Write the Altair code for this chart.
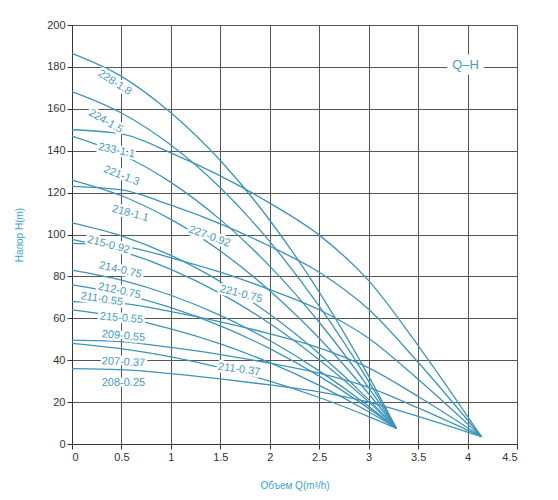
import altair as alt
import pandas as pd

# ---- data ----
q_a = [0, 0.5, 1, 1.5, 2, 2.5, 3, 3.28]          # group ending near Q=3.3
curves_a = {
    "228-1.8":  [186.5, 175.5, 158.1, 135.3, 106.8, 72.5, 32.4, 7.5],
    "224-1.5":  [168.2, 158.0, 142.7, 122.3, 96.6, 65.8, 29.9, 7.5],
    "221-1.3":  [147.0, 138.2, 124.9, 107.1, 84.9, 58.1, 26.9, 7.5],
    "218-1.1":  [126.0, 118.5, 107.2, 92.1, 73.2, 50.5, 24.0, 7.5],
    "215-0.92": [105.5, 99.3, 90.0, 77.5, 61.9, 43.1, 21.2, 7.5],
    "214-0.75": [97.7, 92.0, 83.4, 71.9, 57.5, 40.2, 20.1, 7.5],
    "212-0.75": [83.0, 78.2, 71.0, 61.4, 49.4, 34.9, 18.0, 7.5],
    "211-0.55": [76.0, 71.7, 65.1, 56.4, 45.5, 32.4, 17.0, 7.5],
    "209-0.55": [64.0, 60.4, 55.0, 47.8, 38.8, 28.0, 15.4, 7.5],
    "207-0.37": [48.0, 45.4, 41.6, 36.4, 30.0, 22.2, 13.1, 7.5],
}
q_b = [0, 0.5, 1, 1.5, 2, 2.5, 3, 3.5, 4.14]     # group ending near Q=4.15
curves_b = {
    "233-1.1":  [150.0, 148.0, 139.0, 128.0, 115.0, 99.7, 78.0, 47.0, 3.5],
    "227-0.92": [123.0, 121.3, 114.0, 105.1, 94.4, 82.0, 64.3, 39.0, 3.5],
    "221-0.75": [95.8, 94.5, 88.9, 82.0, 73.7, 64.1, 50.5, 30.9, 3.5],
    "215-0.55": [68.0, 67.1, 63.2, 58.3, 52.6, 45.9, 36.3, 22.7, 3.5],
    "211-0.37": [49.6, 48.9, 46.1, 42.7, 38.6, 33.8, 27.0, 17.2, 3.5],
    "208-0.25": [36.0, 35.5, 33.6, 31.1, 28.2, 24.9, 20.0, 13.2, 3.5],
}

label_text = ["228-1.8", "224-1.5", "233-1.1", "221-1.3", "218-1.1", "227-0.92",
              "215-0.92", "214-0.75", "221-0.75", "212-0.75", "211-0.55",
              "215-0.55", "209-0.55", "207-0.37", "211-0.37", "208-0.25"]
label_q = [0.43, 0.34, 0.45, 0.50, 0.59, 1.39, 0.37, 0.49, 1.71, 0.48, 0.30,
           0.50, 0.52, 0.52, 1.69, 0.52]
label_h = [172.5, 154.0, 140.0, 128.0, 110.0, 99.0, 95.0, 83.0, 71.5, 73.0, 69.0,
           60.0, 51.5, 39.0, 35.5, 29.0]
label_angle = [33, 30, 12, 22, 15, 20, 15, 13, 14, 12, 9, 5, 5, 3, 8, 0]

x_ticks = [i * 0.25 for i in range(19)]
y_ticks = [i * 10 for i in range(21)]

# ---- tables ----
rows = []
for name, hs in curves_a.items():
    for q, h in zip(q_a, hs):
        rows.append({"Q": q, "H": h, "curve": name})
for name, hs in curves_b.items():
    for q, h in zip(q_b, hs):
        rows.append({"Q": q, "H": h, "curve": name})
df = pd.DataFrame(rows)

labels = pd.DataFrame({"text": label_text, "Q": label_q, "H": label_h,
                       "angle": label_angle})
qh = pd.DataFrame({"text": ["Q\u2013H"], "Q": [3.98], "H": [181]})

line_color = "#3f93b8"
text_color = "#4a9cc0"

x_axis = alt.Axis(
    values=x_ticks, format="~g",
    labelExpr="datum.value % 0.5 == 0 ? datum.label : ''",
    gridColor={"condition": {"test": "datum.value % 0.5 != 0", "value": "#cfcfcf"},
               "value": "#555555"},
    tickOpacity={"condition": {"test": "datum.value % 0.5 != 0", "value": 0},
                 "value": 1},
    tickColor="#333", tickSize=5, domainColor="#333",
    labelColor="#333", labelFontSize=11, labelFont="Liberation Sans",
    title="\u041e\u0431\u044a\u0435\u043c Q(m\u00b3/h)", titleColor="#3b9fd2",
    titleFontSize=10, titleFontWeight="normal", titleFont="Liberation Sans",
    titlePadding=18,
)
y_axis = alt.Axis(
    values=y_ticks,
    labelExpr="datum.value % 20 == 0 ? datum.label : ''",
    gridColor={"condition": {"test": "datum.value % 20 != 0", "value": "#cfcfcf"},
               "value": "#555555"},
    tickOpacity={"condition": {"test": "datum.value % 20 != 0", "value": 0},
                 "value": 1},
    tickColor="#333", tickSize=5, domainColor="#333",
    labelColor="#333", labelFontSize=11, labelFont="Liberation Sans",
    title="\u041d\u0430\u043f\u043e\u0440 H(m)", titleColor="#3b9fd2",
    titleFontSize=10, titleFontWeight="normal", titleFont="Liberation Sans",
    titlePadding=22,
)

xs = alt.Scale(domain=[0, 4.5], nice=False, zero=False)
ys = alt.Scale(domain=[0, 200], nice=False)

lines = alt.Chart(df).mark_line(
    interpolate="monotone", color=line_color, strokeWidth=1.3
).encode(
    x=alt.X("Q:Q", scale=xs, axis=x_axis),
    y=alt.Y("H:Q", scale=ys, axis=y_axis),
    detail="curve:N",
)

halo = alt.Chart(labels).mark_text(
    font="Liberation Sans", fontSize=11, color="white",
    stroke="white", strokeWidth=5, strokeJoin="round"
).encode(
    x="Q:Q", y="H:Q", text="text:N", angle=alt.Angle("angle:Q", scale=None)
)
txt = alt.Chart(labels).mark_text(
    font="Liberation Sans", fontSize=11, color=text_color
).encode(
    x="Q:Q", y="H:Q", text="text:N", angle=alt.Angle("angle:Q", scale=None)
)

qh_halo = alt.Chart(qh).mark_text(
    font="Liberation Sans", fontSize=13, color="white",
    stroke="white", strokeWidth=12, strokeJoin="round"
).encode(x="Q:Q", y="H:Q", text="text:N")
qh_txt = alt.Chart(qh).mark_text(
    font="Liberation Sans", fontSize=13, color=text_color
).encode(x="Q:Q", y="H:Q", text="text:N")

chart = alt.layer(lines, halo, txt, qh_halo, qh_txt).properties(
    width=445, height=419,
    autosize=alt.AutoSizeParams(type="none"),
    padding={"left": 64, "top": 17, "right": 25, "bottom": 56},
).configure_view(stroke=None).configure_axis(gridWidth=1)

chart.save("out.html", embed_options={"renderer": "svg", "actions": False})
